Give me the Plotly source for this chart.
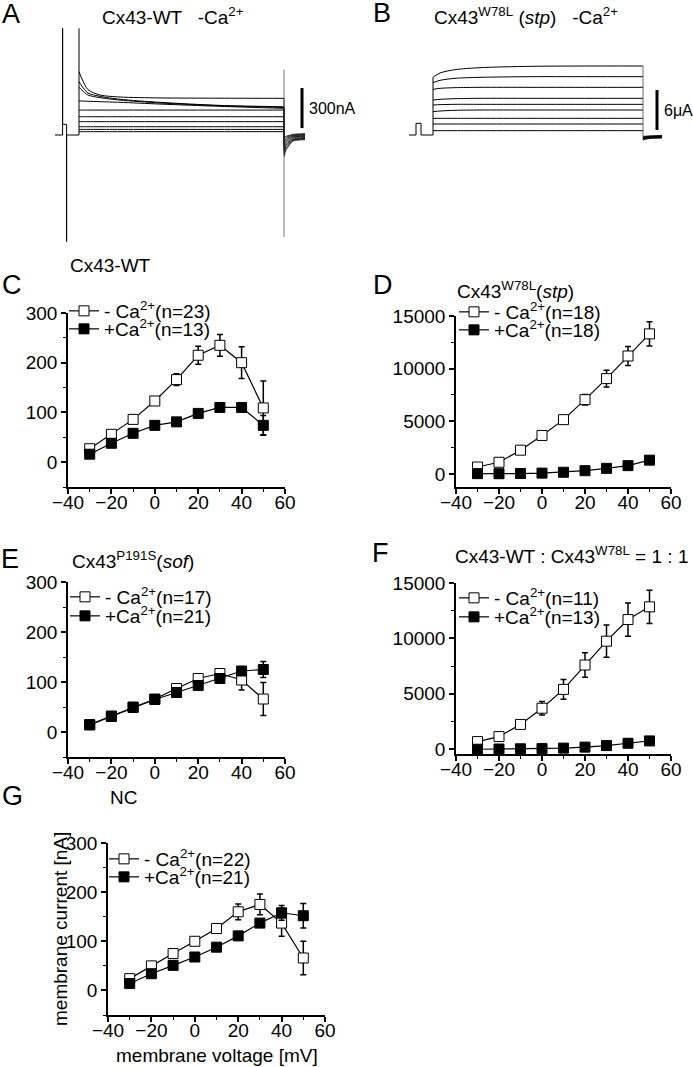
import plotly.graph_objects as go

W, H = 693, 1067
FONT = "Liberation Sans, Arial, sans-serif"

# ---------------- IV data (membrane voltage mV vs current) ----------------
voltage = [-30, -20, -10, 0, 10, 20, 30, 40, 50]

C_open = [27, 56, 86, 123, 166, 215, 235, 200, 109]
C_open_err = [5, 6, 8, 5, 12, 18, 22, 32, 54]
C_fill = [16, 38, 58, 74, 81, 98, 110, 110, 74]
C_fill_err = [3, 3, 3, 3, 3, 4, 4, 4, 20]

D_open = [650, 1100, 2250, 3650, 5150, 7050, 9050, 11200, 13300]
D_open_err = [350, 350, 300, 250, 200, 500, 800, 900, 1150]
D_fill = [20, 10, 30, 70, 150, 300, 520, 780, 1300]
D_fill_err = [80, 60, 60, 60, 80, 100, 120, 150, 200]

E_open = [15, 32, 50, 66, 87, 107, 117, 104, 66]
E_open_err = [3, 3, 3, 3, 5, 5, 6, 20, 33]
E_fill = [14, 31, 49, 65, 79, 93, 107, 122, 125]
E_fill_err = [3, 3, 3, 3, 4, 4, 4, 6, 16]

F_open = [690, 1140, 2240, 3700, 5400, 7600, 9750, 11700, 12850]
F_open_err = [300, 400, 300, 600, 900, 1100, 1450, 1500, 1500]
F_fill = [0, 20, 40, 60, 100, 190, 330, 540, 750]
F_fill_err = [60, 60, 60, 60, 80, 80, 100, 120, 150]

G_open = [24, 50, 75, 100, 126, 160, 175, 137, 66]
G_open_err = [4, 5, 6, 4, 8, 16, 21, 27, 34]
G_fill = [14, 34, 51, 68, 88, 111, 137, 158, 152]
G_fill_err = [3, 3, 3, 3, 3, 4, 5, 15, 25]

legend_names = {
    "C": ["- Ca<sup>2+</sup>(n=23)", "+Ca<sup>2+</sup>(n=13)"],
    "D": ["- Ca<sup>2+</sup>(n=18)", "+Ca<sup>2+</sup>(n=18)"],
    "E": ["- Ca<sup>2+</sup>(n=17)", "+Ca<sup>2+</sup>(n=21)"],
    "F": ["- Ca<sup>2+</sup>(n=11)", "+Ca<sup>2+</sup>(n=13)"],
    "G": ["- Ca<sup>2+</sup>(n=22)", "+Ca<sup>2+</sup>(n=21)"],
}

x_ticks = [-40, -20, 0, 20, 40, 60]

# ---------------- Current traces (panel A: nA, panel B: uA) ----------------
tA = [0, 15, 45, 105, 205, 405, 705, 1025]  # ms
sweepsA = [
    [25, 25, 25, 25, 25, 25, 25, 25],
    [42, 42, 42, 42, 42, 42, 42, 42],
    [62, 62, 62, 62, 62, 62, 62, 62],
    [100, 100, 100, 100, 100, 100, 100, 100],
    [137, 137, 137, 137, 137, 137, 137, 137],
    [187, 187, 187, 187, 187, 187, 187, 187],
    [255, 255, 253, 250, 245, 232, 215, 200],
    [357, 335, 300, 280, 262, 240, 220, 207],
    [400, 365, 315, 290, 268, 245, 222, 212],
    [475, 420, 340, 300, 285, 278, 276, 275],
]
tA_tail = [1027, 1032, 1045, 1070, 1130]
tailsA = [
    [-20, -12, -5, 5, 10],
    [-35, -22, -12, 0, 5],
    [-50, -35, -20, -5, 0],
    [-65, -45, -30, -10, -5],
    [-80, -55, -40, -15, -10],
    [-95, -68, -50, -22, -15],
    [-110, -80, -60, -30, -20],
    [-125, -92, -70, -35, -25],
    [-140, -105, -80, -40, -30],
    [-160, -120, -90, -45, -35],
]
preA_t = [-120, -82, -82, -82, -62, -62, -62, -58, 0, 0, 0]
preA_i = [0, 0, 800, 80, 80, -800, 0, 0, 0, 0, 800]
endA_t = [1025, 1025]
endA_i = [490, -765]
barA_t = [1115, 1115]
barA_i = [52, 352]

tB = [0, 35, 110, 235, 485, 835, 1050]  # ms
sweepsB = [
    [0.65, 0.65, 0.65, 0.65, 0.65, 0.65, 0.65],
    [1.65, 1.65, 1.65, 1.65, 1.65, 1.65, 1.65],
    [2.5, 2.5, 2.5, 2.5, 2.5, 2.5, 2.5],
    [3.5, 3.6, 3.7, 3.75, 3.75, 3.75, 3.75],
    [4.5, 4.55, 4.6, 4.6, 4.6, 4.6, 4.6],
    [5.25, 5.35, 5.45, 5.5, 5.5, 5.5, 5.5],
    [6.85, 7.0, 7.1, 7.15, 7.15, 7.15, 7.15],
    [7.85, 8.2, 8.5, 8.65, 8.75, 8.75, 8.75],
    [8.65, 9.3, 9.8, 10.1, 10.3, 10.35, 10.35],
]
tB_tail = [1052, 1065, 1090, 1145]
tailsB = [
    [-0.2, -0.15, -0.1, -0.1],
    [-0.3, -0.2, -0.15, -0.1],
    [-0.4, -0.3, -0.2, -0.15],
    [-0.45, -0.35, -0.25, -0.2],
    [-0.5, -0.4, -0.3, -0.25],
    [-0.55, -0.45, -0.35, -0.3],
    [-0.6, -0.5, -0.4, -0.35],
    [-0.7, -0.55, -0.45, -0.4],
    [-0.75, -0.6, -0.5, -0.45],
]
preB_t = [-120, -85, -85, -60, -60, 0, 0]
preB_i = [0, 0, 1.75, 1.75, 0, 0, 8.65]
endB_t = [1050, 1050]
endB_i = [10.35, -0.75]
barB_t = [1120, 1120]
barB_i = [0.75, 6.75]


def px_x(p):
    return p / W


def px_y(p):
    return 1 - p / H


fig = go.Figure()

# ---------------- panels C-G ----------------
panels = [
    ("C", "", (68, 285), (313, 487), [-50, 300], 100, 50, C_open, C_open_err, C_fill, C_fill_err, [(69, 311), (69, 329)]),
    ("D", "2", (456, 671), (316, 487), [-1250, 15000], 5000, 2500, D_open, D_open_err, D_fill, D_fill_err, [(459, 312), (459, 330)]),
    ("E", "3", (68, 285), (582, 757), [-50, 300], 100, 50, E_open, E_open_err, E_fill, E_fill_err, [(70, 597), (70, 616)]),
    ("F", "4", (456, 671), (583, 754), [-430, 15000], 5000, 2500, F_open, F_open_err, F_fill, F_fill_err, [(459, 598), (459, 617)]),
    ("G", "5", (108, 325), (843, 1015), [-50, 300], 100, 50, G_open, G_open_err, G_fill, G_fill_err, [(109, 859), (109, 877)]),
]

legend_counter = 0
layout_extra = {}
for key, sfx, (x0, x1), (y0, y1), yr, dt, mdt, yo, yoe, yf, yfe, legpos in panels:
    xa = "x" + sfx
    ya = "y" + sfx
    ids = []
    for j in range(2):
        legend_counter += 1
        lid = "legend" if legend_counter == 1 else "legend%d" % legend_counter
        ids.append(lid)
        sx, sy = legpos[j]
        layout_extra[lid] = dict(
            x=px_x(sx - 5), y=px_y(sy), xanchor="left", yanchor="middle",
            bgcolor="rgba(0,0,0,0)", borderwidth=0, itemwidth=30,
            font=dict(family=FONT, size=19, color="black"),
        )
    fig.add_trace(go.Scatter(
        x=voltage, y=yo, mode="lines+markers", xaxis=xa, yaxis=ya,
        name=legend_names[key][0], legend=ids[0], showlegend=True,
        line=dict(color="black", width=1.2),
        marker=dict(symbol="square", size=10, color="white", line=dict(color="black", width=1)),
        error_y=dict(type="data", array=yoe, color="black", thickness=1.5, width=3),
    ))
    fig.add_trace(go.Scatter(
        x=voltage, y=yf, mode="lines+markers", xaxis=xa, yaxis=ya,
        name=legend_names[key][1], legend=ids[1], showlegend=True,
        line=dict(color="black", width=1.2),
        marker=dict(symbol="square", size=10, color="black", line=dict(color="black", width=1)),
        error_y=dict(type="data", array=yfe, color="black", thickness=1.5, width=3),
    ))
    axis_common = dict(
        showline=True, linecolor="black", linewidth=1.5, showgrid=False, zeroline=False,
        ticks="outside", ticklen=5, tickwidth=1.5, tickcolor="black", automargin=False,
        tickfont=dict(family=FONT, size=19, color="black"),
    )
    layout_extra["xaxis" + sfx] = dict(
        axis_common, domain=[px_x(x0), px_x(x1)], range=[-40, 60],
        tickmode="array", tickvals=x_ticks, anchor=ya, ticklabelstandoff=-8,
        minor=dict(ticks="outside", ticklen=3, tickwidth=1, tickcolor="black", dtick=10, tick0=0),
    )
    layout_extra["yaxis" + sfx] = dict(
        axis_common, domain=[px_y(y1), px_y(y0)], range=yr,
        dtick=dt, tick0=0, anchor=xa, tickformat="d",
        minor=dict(ticks="outside", ticklen=3, tickwidth=1, tickcolor="black", dtick=mdt, tick0=0),
    )

# ---------------- panel A traces ----------------
lineA = dict(color="black", width=1)
for s, tl in zip(sweepsA, tailsA):
    fig.add_trace(go.Scatter(x=tA, y=s, mode="lines", line=dict(lineA, shape="spline", smoothing=0.8),
                             xaxis="x6", yaxis="y6", showlegend=False))
    fig.add_trace(go.Scatter(x=[tA[-1]] + tA_tail, y=[s[-1]] + tl, mode="lines",
                             line=dict(color="black", width=0.8, shape="spline", smoothing=0.6),
                             xaxis="x6", yaxis="y6", showlegend=False))
fig.add_trace(go.Scatter(x=preA_t, y=preA_i, mode="lines", line=lineA, xaxis="x6", yaxis="y6", showlegend=False))
fig.add_trace(go.Scatter(x=endA_t, y=endA_i, mode="lines", line=dict(color="#555", width=0.8), xaxis="x6", yaxis="y6", showlegend=False))
fig.add_trace(go.Scatter(x=barA_t, y=barA_i, mode="lines", line=dict(color="black", width=3), xaxis="x6", yaxis="y6", showlegend=False))

# ---------------- panel B traces ----------------
for s, tl in zip(sweepsB, tailsB):
    fig.add_trace(go.Scatter(x=tB, y=s, mode="lines", line=dict(color="black", width=1, shape="spline", smoothing=0.8),
                             xaxis="x7", yaxis="y7", showlegend=False))
    fig.add_trace(go.Scatter(x=[tB[-1]] + tB_tail, y=[tl[0]] + tl, mode="lines",
                             line=dict(color="black", width=0.8),
                             xaxis="x7", yaxis="y7", showlegend=False))
fig.add_trace(go.Scatter(x=preB_t, y=preB_i, mode="lines", line=dict(color="black", width=1), xaxis="x7", yaxis="y7", showlegend=False))
fig.add_trace(go.Scatter(x=endB_t, y=endB_i, mode="lines", line=dict(color="#444", width=0.8), xaxis="x7", yaxis="y7", showlegend=False))
fig.add_trace(go.Scatter(x=barB_t, y=barB_i, mode="lines", line=dict(color="black", width=3), xaxis="x7", yaxis="y7", showlegend=False))

hidden = dict(visible=False, showgrid=False, zeroline=False, fixedrange=True, automargin=False)
layout_extra["xaxis6"] = dict(hidden, domain=[px_x(40), px_x(360)], range=[-195, 1405], anchor="y6")
layout_extra["yaxis6"] = dict(hidden, domain=[px_y(250), px_y(20)], range=[-862.5, 862.5], anchor="x6")
layout_extra["xaxis7"] = dict(hidden, domain=[px_x(375), px_x(693)], range=[-290, 1300], anchor="y7")
layout_extra["yaxis7"] = dict(hidden, domain=[px_y(250), px_y(20)], range=[-17.25, 17.25], anchor="x7")

# ---------------- annotations ----------------
ann = []


def txt(text, x, y, size=19, xanchor="left", **kw):
    d = dict(text=text, x=px_x(x), y=px_y(y), xref="paper", yref="paper", showarrow=False,
             xanchor=xanchor, yanchor="middle", font=dict(family=FONT, size=size, color="black"))
    d.update(kw)
    ann.append(d)


letters = [("A", 11, 14), ("B", 382, 13), ("C", 12, 285), ("D", 383, 285),
           ("E", 10, 559), ("F", 380, 553), ("G", 12, 796)]
for L, x, y in letters:
    txt(L, x, y, size=27, xanchor="center")

txt("Cx43-WT   -Ca<sup>2+</sup>", 100, 16)
txt("Cx43<sup>W78L</sup> (<i>stp</i>)   -Ca<sup>2+</sup>", 432, 16)
txt("Cx43-WT", 68, 265)
txt("Cx43<sup>W78L</sup>(<i>stp</i>)", 455, 290)
txt("Cx43<sup>P191S</sup>(<i>sof</i>)", 70, 560)
txt("Cx43-WT : Cx43<sup>W78L</sup> = 1 : 1", 453, 555)
txt("NC", 108, 797)
txt("membrane current [nA]", 60, 929, xanchor="center", textangle=-90)
txt("membrane voltage [mV]", 217, 1055, xanchor="center")

ann.append(dict(text="300nA", x=1140, y=202, xref="x6", yref="y6", showarrow=False, xanchor="left",
                yanchor="middle", font=dict(family=FONT, size=16, color="black")))
ann.append(dict(text="6μA", x=1145, y=3.6, xref="x7", yref="y7", showarrow=False, xanchor="left",
                yanchor="middle", font=dict(family=FONT, size=16, color="black")))

fig.update_layout(
    width=W, height=H, margin=dict(l=0, r=0, t=0, b=0, autoexpand=False),
    paper_bgcolor="white", plot_bgcolor="white",
    font=dict(family=FONT, size=19, color="black"),
    annotations=ann, **layout_extra,
)

fig.write_html("out.html", config={"displayModeBar": False},
               post_script="document.body.style.margin='0';document.body.style.overflow='hidden';")
